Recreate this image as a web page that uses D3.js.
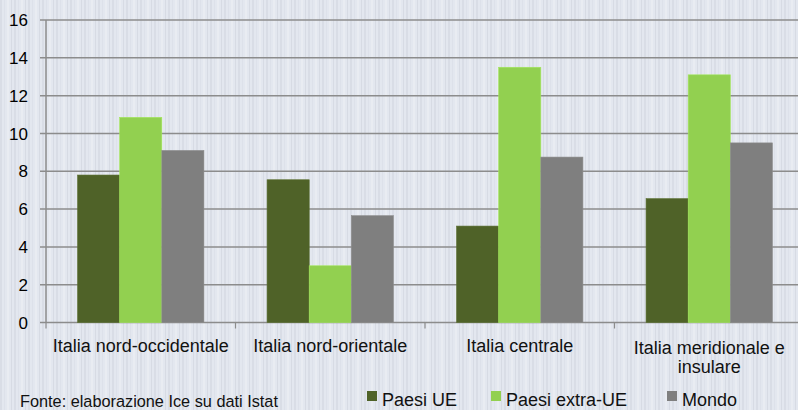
<!DOCTYPE html>
<html>
<head>
<meta charset="utf-8">
<script src="https://cdn.jsdelivr.net/npm/d3@7"></script>
<style>
  body { margin: 0; }
  svg { display: block; font-family: "Liberation Sans", Arial, sans-serif; }
</style>
</head>
<body>
<div id="chart"></div>
<script>
const categories = [
  ['Italia nord-occidentale'],
  ['Italia nord-orientale'],
  ['Italia centrale'],
  ['Italia meridionale e', 'insulare']
];
const seriesNames = ['Paesi UE', 'Paesi extra-UE', 'Mondo'];
const paesiUE = [7.8, 7.55, 5.1, 6.55];
const paesiExtraUE = [10.85, 3.0, 13.5, 13.1];
const mondo = [9.1, 5.65, 8.75, 9.5];
const yTicks = [0, 2, 4, 6, 8, 10, 12, 14, 16];

const colors = ['#4f6228', '#92d050', '#7f7f7f'];
const series = [paesiUE, paesiExtraUE, mondo];

const width = 798, height = 410;
const margin = {top: 20, right: -6, bottom: 88, left: 46};

const svg = d3.select('#chart').append('svg')
  .attr('width', width)
  .attr('height', height);

// striped background
const defs = svg.append('defs');
const pat = defs.append('pattern')
  .attr('id', 'stripes')
  .attr('patternUnits', 'userSpaceOnUse')
  .attr('width', 14).attr('height', 10);
pat.append('rect').attr('width', 14).attr('height', 10).attr('fill', '#e3e7ef');
[[0, 2, '#d9dde6'], [4, 1, '#dde1ea'], [7, 2, '#e9ecf2'], [11, 1, '#d7dbe4']].forEach(([x, w, c]) => {
  pat.append('rect').attr('x', x).attr('width', w).attr('height', 10).attr('fill', c);
});
svg.append('rect').attr('width', width).attr('height', height).attr('fill', 'url(#stripes)');

const x0 = d3.scaleBand()
  .domain(d3.range(categories.length))
  .range([margin.left, width - margin.right]);

const x1 = d3.scaleBand()
  .domain(d3.range(series.length))
  .range([0, x0.bandwidth()])
  .paddingOuter(0.75)
  .paddingInner(0);

const y = d3.scaleLinear()
  .domain([0, 16])
  .range([height - margin.bottom + 0.5, margin.top]);

// gridlines
svg.append('g')
  .selectAll('line')
  .data(yTicks)
  .join('line')
  .attr('x1', margin.left - 6)
  .attr('x2', width)
  .attr('y1', d => y(d))
  .attr('y2', d => y(d))
  .attr('stroke', '#8c8c8c')
  .attr('stroke-width', 1.5);

// y axis line
svg.append('line')
  .attr('x1', margin.left).attr('x2', margin.left)
  .attr('y1', y(16)).attr('y2', y(0))
  .attr('stroke', '#8c8c8c').attr('stroke-width', 1.5);

// bars
const groups = svg.append('g')
  .selectAll('g')
  .data(categories)
  .join('g')
  .attr('transform', (d, i) => `translate(${x0(i)},0)`);

groups.selectAll('rect')
  .data((d, i) => series.map((s, k) => ({k, v: s[i]})))
  .join('rect')
  .attr('x', d => x1(d.k))
  .attr('width', x1.bandwidth())
  .attr('y', d => y(d.v))
  .attr('height', d => y(0) - y(d.v))
  .attr('fill', d => colors[d.k])
  .attr('stroke', d => d3.color(colors[d.k]).brighter(0.3))
  .attr('stroke-width', 0.6);

// x axis ticks
svg.append('g')
  .selectAll('line')
  .data(d3.range(categories.length + 1))
  .join('line')
  .attr('x1', i => margin.left + i * x0.bandwidth())
  .attr('x2', i => margin.left + i * x0.bandwidth())
  .attr('y1', y(0))
  .attr('y2', y(0) + 6)
  .attr('stroke', '#8c8c8c')
  .attr('stroke-width', 1.2);

// y tick labels
svg.append('g')
  .selectAll('text')
  .data(yTicks)
  .join('text')
  .attr('x', 28)
  .attr('y', d => y(d))
  .attr('dy', '0.36em')
  .attr('text-anchor', 'end')
  .attr('font-size', 17)
  .attr('fill', '#000')
  .text(d => d);

// category labels
const cl = svg.append('g')
  .selectAll('text')
  .data(categories)
  .join('text')
  .attr('text-anchor', 'middle')
  .attr('font-size', 18)
  .attr('fill', '#111')
  .attr('transform', (d, i) => `translate(${x0(i) + x0.bandwidth() / 2},${y(0) + (d.length > 1 ? 31 : 29)})`);
cl.selectAll('tspan')
  .data(d => d)
  .join('tspan')
  .attr('x', 0)
  .attr('dy', (d, j) => j === 0 ? 0 : 19)
  .text(d => d);

// source
svg.append('text')
  .attr('x', 20)
  .attr('y', 407)
  .attr('font-size', 16.3)
  .attr('fill', '#111')
  .text('Fonte: elaborazione Ice su dati Istat');

// legend
const legendX = [367, 491, 667];
const lg = svg.append('g')
  .selectAll('g')
  .data(seriesNames)
  .join('g')
  .attr('transform', (d, i) => `translate(${legendX[i]},0)`);
lg.append('rect')
  .attr('x', 0).attr('y', 391)
  .attr('width', 10).attr('height', 10)
  .attr('fill', (d, i) => colors[i]);
lg.append('text')
  .attr('x', 15)
  .attr('y', 406)
  .attr('font-size', 18)
  .attr('fill', '#111')
  .text(d => d);
</script>
</body>
</html>
